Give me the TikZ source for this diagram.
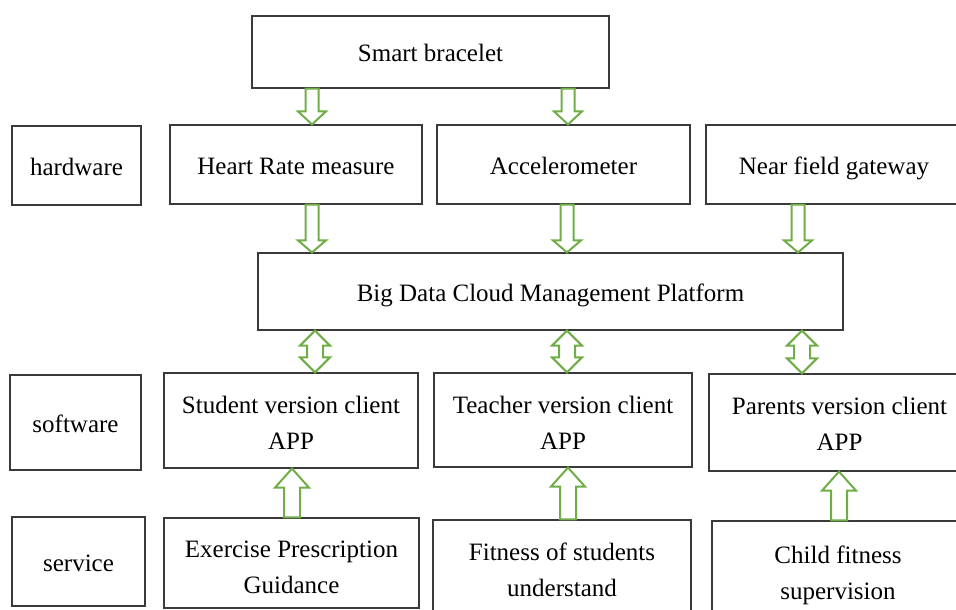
\documentclass[tikz,border=0pt]{standalone}
\usepackage{fontspec}
\setmainfont{Liberation Serif}
\usetikzlibrary{calc}
\definecolor{boxgray}{HTML}{3A3A3A}
\definecolor{arrgreen}{HTML}{70AD47}

% hollow block arrow pointing down from the bottom of #2 to the top of #3
% #1 x position, #4 shaft half width, #5 head half width, #6 head length
\newcommand\blockdown[6]{%
  \draw[blockarr] let \p1=(#2.south), \p2=(#3.north) in
    (#1pt-#4pt,\y1) -- (#1pt-#4pt,\y2+#6pt) -- (#1pt-#5pt,\y2+#6pt) -- (#1pt,\y2)
    -- (#1pt+#5pt,\y2+#6pt) -- (#1pt+#4pt,\y2+#6pt) -- (#1pt+#4pt,\y1) -- cycle;}
% hollow block arrow pointing up from the top of #2 to the bottom of #3
\newcommand\blockup[6]{%
  \draw[blockarr] let \p1=(#2.north), \p2=(#3.south) in
    (#1pt-#4pt,\y1) -- (#1pt-#4pt,\y2-#6pt) -- (#1pt-#5pt,\y2-#6pt) -- (#1pt,\y2)
    -- (#1pt+#5pt,\y2-#6pt) -- (#1pt+#4pt,\y2-#6pt) -- (#1pt+#4pt,\y1) -- cycle;}
% hollow double-headed block arrow between the bottom of #2 and the top of #3
\newcommand\blockboth[6]{%
  \draw[blockarr] let \p1=(#2.south), \p2=(#3.north) in
    (#1pt,\y1) -- (#1pt+#5pt,\y1-#6pt) -- (#1pt+#4pt,\y1-#6pt) -- (#1pt+#4pt,\y2+#6pt)
    -- (#1pt+#5pt,\y2+#6pt) -- (#1pt,\y2) -- (#1pt-#5pt,\y2+#6pt) -- (#1pt-#4pt,\y2+#6pt)
    -- (#1pt-#4pt,\y1-#6pt) -- (#1pt-#5pt,\y1-#6pt) -- cycle;}

\begin{document}
\begin{tikzpicture}[x=1pt,y=-1pt,
  box/.style={draw=boxgray, line width=1.2pt, inner sep=0pt, align=center,
    font=\fontsize{25}{36}\selectfont, text=black},
  oneline/.style={box, text height=19pt, text depth=0pt},
  twoline/.style={box, text height=#1, text depth=0pt},
  twoline/.default=57pt,
  blockarr/.style={draw=arrgreen, line width=2pt, fill=white, line join=miter}]

\useasboundingbox (0,0) rectangle (956,610);
\clip (0,0) rectangle (956,610);

% top device
\node[oneline, minimum width=357pt, minimum height=72pt] (sb) at (430.5,52) {Smart bracelet};

% hardware row
\node[oneline, minimum width=129pt, minimum height=79pt] (hw) at (76.5,165.5) {hardware};
\node[oneline, minimum width=252pt, minimum height=79pt] (hr) at (296,164.5) {Heart Rate measure};
\node[oneline, minimum width=253pt, minimum height=79pt] (acc) at (563.5,164.5) {Accelerometer};
\node[oneline, minimum width=256pt, minimum height=79pt] (nf) at (834,164.5) {Near field gateway};

% platform
\node[oneline, minimum width=585pt, minimum height=77pt] (bd) at (550.5,291.5) {Big Data Cloud Management Platform};

% software row
\node[oneline, minimum width=131pt, minimum height=95pt] (sw) at (75.5,422.5) {software};
\node[twoline=57pt, minimum width=254pt, minimum height=95pt] (st) at (291,420.5) {Student version client\\APP};
\node[twoline=59pt, minimum width=258pt, minimum height=94pt] (te) at (563,420) {Teacher version client\\APP};
\node[twoline=55pt, minimum width=261pt, minimum height=97pt] (pa) at (839.5,422.5) {Parents version client\\APP};

% service row
\node[oneline, minimum width=133pt, minimum height=89pt] (sv) at (78.5,561.5) {service};
\node[twoline=61pt, minimum width=255pt, minimum height=90pt] (ex) at (291.5,563) {Exercise Prescription\\Guidance};
\node[twoline=54pt, minimum width=258pt, minimum height=98pt] (fi) at (562,569) {Fitness of students\\understand};
\node[twoline=57pt, minimum width=252pt, minimum height=100pt] (ch) at (838,571) {Child fitness\\supervision};

% bracelet to sensors
\blockdown{312}{sb}{hr}{6.5}{14}{13}
\blockdown{568}{sb}{acc}{6.5}{14}{13}

% sensors to platform
\blockdown{312}{hr}{bd}{6.5}{14}{12}
\blockdown{567}{acc}{bd}{6.5}{14}{12}
\blockdown{798}{nf}{bd}{6.5}{14}{12}

% platform to clients and back
\blockboth{315}{bd}{st}{8}{15}{15}
\blockboth{567}{bd}{te}{8}{15}{15}
\blockboth{802}{bd}{pa}{8}{15}{15}

% services to clients
\blockup{292}{ex}{st}{8}{17}{19}
\blockup{568}{fi}{te}{8}{17}{19}
\blockup{839}{ch}{pa}{8}{17}{19}

\end{tikzpicture}
\end{document}
